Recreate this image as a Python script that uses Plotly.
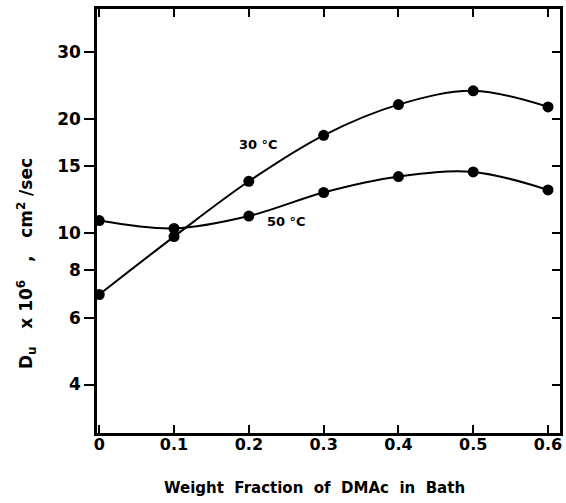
import math
import plotly.graph_objects as go

# Data
weight_fraction = [0, 0.1, 0.2, 0.3, 0.4, 0.5, 0.6]
d_30C = [6.9, 9.8, 13.7, 18.1, 21.8, 23.7, 21.5]
d_50C = [10.8, 10.3, 11.1, 12.8, 14.1, 14.5, 13.0]

x_tick_vals = [0, 0.1, 0.2, 0.3, 0.4, 0.5, 0.6]
x_tick_text = ["0", "0.1", "0.2", "0.3", "0.4", "0.5", "0.6"]
y_tick_vals = [4, 6, 8, 10, 15, 20, 30]
y_tick_text = ["4", "6", "8", "10", "15", "20", "30"]

series_labels = ["30 °C", "50 °C"]
label_x = [0.213, 0.25]
label_y = [17.1, 10.73]

FONT = "DejaVu Sans"

fig = go.Figure()
for ys in (d_30C, d_50C):
    fig.add_trace(go.Scatter(
        x=weight_fraction, y=ys, mode="lines+markers",
        line=dict(color="black", width=2, shape="spline", smoothing=1.0),
        marker=dict(color="black", size=11),
        showlegend=False, hoverinfo="skip",
    ))
# invisible trace to carry the right-hand (inside-tick) axis
fig.add_trace(go.Scatter(
    x=weight_fraction, y=d_30C, yaxis="y2", mode="markers",
    marker=dict(opacity=0), showlegend=False, hoverinfo="skip",
))

y_range = [0.4745, 1.590]

fig.update_layout(
    width=566, height=503,
    margin=dict(l=97, r=6, t=9, b=70, autoexpand=False),
    paper_bgcolor="white", plot_bgcolor="white",
    font=dict(family=FONT, color="black", size=16, weight="bold"),
    xaxis=dict(
        range=[-0.003, 0.616], tickvals=x_tick_vals, ticktext=x_tick_text,
        ticks="inside", ticklen=8, tickwidth=2, tickcolor="black",
        showline=True, linewidth=2.5, linecolor="black", mirror="ticks",
        showgrid=False, zeroline=False, automargin=False,
        ticklabelstandoff=-5,
        tickfont=dict(family=FONT, size=16, weight="bold"),
    ),
    yaxis=dict(
        type="log", range=y_range, tickvals=y_tick_vals, ticktext=y_tick_text,
        ticks="outside", ticklen=10, tickwidth=2, tickcolor="black",
        showline=True, linewidth=2.5, linecolor="black", mirror=True,
        showgrid=False, zeroline=False, automargin=False,
        tickfont=dict(family=FONT, size=17, weight="bold"),
    ),
    yaxis2=dict(
        type="log", range=y_range, overlaying="y", side="right",
        tickvals=y_tick_vals, showticklabels=False,
        ticks="inside", ticklen=8, tickwidth=2, tickcolor="black",
        showline=False, showgrid=False, zeroline=False, automargin=False,
    ),
)

for txt, lx, ly in zip(series_labels, label_x, label_y):
    fig.add_annotation(
        x=lx, y=math.log10(ly), xref="x", yref="y", text=txt, showarrow=False,
        font=dict(family=FONT, size=13, weight="bold"),
    )
fig.add_annotation(
    x=-0.152, y=0.40, xref="paper", yref="paper", textangle=-90,
    xanchor="center", yanchor="middle",
    text="D<sub>u</sub>   x 10<sup>6</sup>   ,   cm<sup>2</sup> /sec", showarrow=False,
    font=dict(family=FONT, size=17, weight="bold"),
)
fig.add_annotation(
    x=0.47, y=-0.13, xref="paper", yref="paper", yanchor="middle",
    text="Weight  Fraction  of  DMAc  in  Bath", showarrow=False,
    font=dict(family=FONT, size=15, weight="bold"),
)

fig.write_html(
    "out.html",
    config={"displayModeBar": False},
    post_script="document.body.style.margin='0';",
)
